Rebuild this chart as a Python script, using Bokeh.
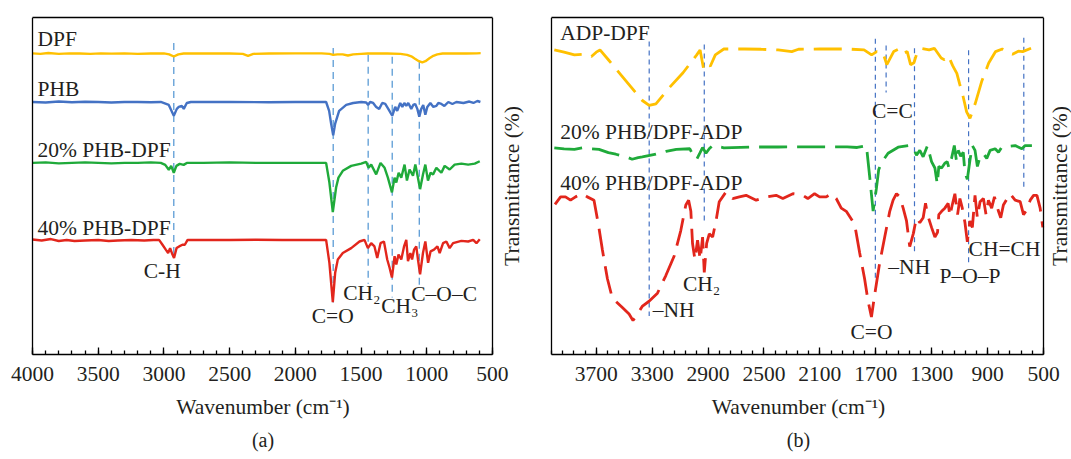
from bokeh.plotting import figure
from bokeh.layouts import row
from bokeh.models import Range1d, FixedTicker, Label, Title, LinearAxis, Span
from bokeh.embed import file_html
from bokeh.resources import INLINE

FONT = "Liberation Serif"
TXT = "#231F20"
FS = "21.5px"

# ---------------- Panel (a) data ----------------
a_major_ticks = [4000, 3500, 3000, 2500, 2000, 1500, 1000, 500]
a_minor_ticks = list(range(500, 4001, 100))

dpf_wn = [4000, 3940, 3880, 3800, 3720, 3640, 3560, 3480, 3400, 3300,
          3200, 3100, 3000, 2960, 2925, 2890, 2850, 2700, 2500, 2400,
          2360, 2320, 2200, 2000, 1800, 1740, 1712, 1680, 1640, 1600,
          1560, 1500, 1450, 1400, 1300, 1200, 1150, 1118, 1090, 1060,
          1034, 1010, 980, 950, 920, 880, 800, 700, 620, 590]
dpf_t = [306.5, 306, 306.8, 306, 306.5, 306.3, 306, 306.5, 306.2, 306.5,
         306, 306.3, 306.5, 305.5, 303.3, 305.5, 306.3, 306.5, 306.3, 306,
         304, 306, 306.3, 306.5, 306.5, 306, 305, 305.5, 305.5, 304.3,
         305.5, 306, 306.3, 306.5, 306.3, 306, 305, 303.5, 301, 298.5,
         297.3, 298.5, 301.5, 304, 305.5, 306.3, 306.5, 306.3, 306.5, 306.7]

phb_wn = [4000, 3900, 3800, 3700, 3600, 3500, 3400, 3300, 3200, 3100,
          3024, 2963, 2925, 2902, 2887, 2864, 2849, 2826, 2795,
          2500, 2200, 2000, 1800,
          1766, 1743, 1728, 1712, 1697, 1667, 1613, 1560, 1499,
          1461, 1446, 1431, 1408, 1385, 1362, 1339, 1316, 1293, 1263,
          1240, 1225, 1202, 1186, 1171, 1156, 1141, 1118, 1103, 1088,
          1072, 1057, 1042, 1027, 1011, 996, 973, 950, 927, 912,
          889, 866, 836, 805, 775, 721, 676, 645, 615, 592]
phb_t = [257, 256.5, 257.5, 256.8, 257.2, 257, 256.5, 257, 257, 256.8,
         257, 254, 243, 250, 252, 253, 250, 256, 257,
         257, 256.8, 257, 257,
         257, 248, 235, 223, 235, 248, 254, 256, 257,
         256.5, 254, 257, 256, 252, 250, 256, 255, 250, 243,
         252, 248, 256, 252, 256, 253, 256, 250, 254, 255,
         250, 242, 250, 254, 244, 252, 256, 252, 253, 256,
         255, 253, 257, 255, 257, 256, 257.5, 256, 258, 257]

p20_wn = [4000, 3900, 3800, 3700, 3600, 3500, 3400, 3300, 3200, 3100,
          3024, 2990, 2963, 2945, 2925, 2905, 2880, 2850, 2826,
          2700, 2500, 2300, 2100, 1900,
          1766, 1741, 1715, 1690, 1672, 1639, 1575, 1499, 1461, 1443, 1423,
          1385, 1352, 1321, 1296, 1265, 1245, 1232, 1214, 1194,
          1169, 1151, 1131, 1105, 1087, 1072, 1051, 1029, 1011, 991,
          971, 952, 927, 889, 864, 826, 788, 737, 685, 635, 597]
p20_t = [195, 195.5, 194.5, 195, 195.5, 195, 194.5, 195, 195, 195.5,
         195, 193, 188, 192, 185, 192, 194, 193, 195,
         195, 195.5, 195, 195, 195,
         195, 175, 145, 170, 180, 187, 192, 194.3, 196, 190, 193.3,
         183.3, 195, 190, 180, 165, 180, 175, 185, 180,
         193.3, 177, 188.3, 182, 193.3, 183.3, 168.3, 183.3, 193.3, 177,
         185, 183.3, 190, 185, 192, 188.3, 193.3, 194.3, 193.3, 194.3, 196.7]

p40_wn = [4000, 3930, 3860, 3800, 3740, 3680, 3600, 3500, 3420, 3350,
          3250, 3150, 3080, 3037, 3011, 2986, 2968, 2953, 2935, 2923,
          2904, 2884, 2859, 2841, 2820, 2700, 2500, 2300, 2100, 1900,
          1800, 1766, 1741, 1715, 1697, 1677, 1639, 1575, 1512, 1474,
          1448, 1423, 1398, 1377, 1352, 1326, 1301, 1283, 1265, 1245,
          1232, 1215, 1194, 1173, 1156, 1143, 1125, 1112, 1097, 1080,
          1067, 1051, 1029, 1011, 990, 971, 945, 919, 902, 876,
          851, 826, 800, 737, 685, 647, 622, 597]
p40_t = [117, 116, 117.5, 115.5, 116.5, 115.5, 116, 116.5, 115.5, 116,
         116.5, 116, 116.5, 116.7, 111.7, 106.7, 103.3, 108.3, 101.7, 98.3,
         108.3, 110, 111.7, 111.7, 116.7, 116.5, 116.5, 116.8, 116.5, 116.5,
         116.5, 116.7, 93.3, 53.3, 83.3, 96.7, 103.3, 108.3, 115, 116.7,
         108.3, 113.3, 110, 98.3, 113.3, 115, 96.7, 88.3, 78.3, 100,
         91.7, 101.7, 96.7, 110, 116.7, 95, 103.3, 96.7, 106.7, 110,
         96.7, 81.7, 103.3, 115, 93.3, 105, 106.7, 110, 103.3, 113.3,
         115, 108.3, 113.3, 115.7, 115, 116.7, 113.3, 117.3]

a_mark_wn = [2925, 1712, 1446, 1263, 1057]
a_mark_top = [317, 312, 305, 303, 298]
a_mark_bot = [98, 53, 72, 58, 70]

a_labels = ["DPF", "PHB", "20% PHB-DPF", "40% PHB-DPF", "C-H", "C=O", "CH₂", "CH₃", "C–O–C"]
a_label_wn = [3962, 3962, 3962, 3962, 3013, 1716, 1636, 1347, 1118]
a_label_t = [321, 270.5, 208.5, 129, 85, 39, 63, 49, 62]
a_label_align = ["left", "left", "left", "left", "center", "center", "left", "left", "left"]

# ---------------- Panel (b) data ----------------
b_major_ticks = [3700, 3300, 2900, 2500, 2100, 1700, 1300, 900, 500]
b_minor_ticks = list(range(500, 4021, 80))

adp_wn = [4000, 3930, 3856, 3783, 3734, 3700, 3673, 3613, 3516, 3419,
          3370, 3321, 3273, 3176, 3079, 2981, 2957, 2933, 2909, 2884,
          2848, 2787, 2641, 2520, 2399, 2301, 2253, 2100, 1905, 1784,
          1730, 1693, 1650, 1621, 1572, 1524, 1500, 1475, 1451, 1427,
          1402, 1378, 1318, 1281, 1232, 1208, 1180, 1150, 1120, 1100,
          1074, 1050, 1026, 989, 941, 892, 843, 795, 722, 680,
          649, 589]
adp_t = [316.3, 314, 311.2, 312, 309.5, 314, 316.3, 306.1, 289.2, 272.3,
         263.8, 258.7, 260.4, 277.3, 292.6, 311.2, 316.3, 297.7, 302.7, 299.4,
         311.2, 317.3, 317.3, 317, 316.3, 314.6, 317, 317.3, 317.3, 316.3,
         311.2, 314.6, 314, 301, 314.6, 318, 313, 314.6, 301, 303,
         314.6, 318, 316.3, 318, 308, 306, 310, 300, 292, 281,
         267.2, 252, 245.2, 260.4, 284.1, 302.7, 314.6, 317.3, 311.9, 315,
         314.6, 318]

b20_wn = [4000, 3930, 3856, 3800, 3734, 3680, 3613, 3560, 3516, 3480,
          3443, 3400, 3370, 3273, 3200, 3127, 3030, 3006, 2981, 2957,
          2939, 2915, 2890, 2867, 2787, 2600, 2400, 2200, 1905, 1833,
          1767, 1744, 1719, 1696, 1679, 1660, 1612, 1540, 1468, 1432,
          1409, 1385, 1361, 1330, 1301, 1277, 1260, 1249, 1229, 1206,
          1189, 1177, 1158, 1138, 1122, 1110, 1093, 1074, 1062, 1045,
          1026, 1009, 990, 973, 954, 930, 906, 882, 846, 822,
          799, 703, 655, 631, 583]
b20_t = [214.7, 213.5, 213, 214.5, 213.7, 213, 209.6, 208, 206.2, 205,
         202.8, 204.5, 205.2, 208, 211, 213, 213.7, 206.2, 202.8, 209.6,
         215, 209, 214, 217, 214.7, 215.5, 215.5, 215.7, 215.7, 215,
         217, 185.3, 149, 172, 192, 199, 209, 215.3, 217, 215,
         207, 212, 205.3, 217, 200.3, 193.7, 177, 195.3, 193.7, 198.7,
         200.3, 194, 203.7, 217, 200.3, 212, 206, 210, 188.7, 182,
         202, 217, 212, 195.3, 205.3, 208.7, 203.7, 212, 213.7, 210,
         215.3, 217, 213.7, 217, 217]

b40_wn = [3995, 3955, 3920, 3884, 3848, 3800, 3764, 3716, 3681, 3656,
          3620, 3585, 3513, 3465, 3437, 3405, 3369, 3322, 3262, 3202,
          3143, 3095, 3059, 3039, 3023, 3011, 2994, 2975, 2956, 2939,
          2927, 2910, 2891, 2867, 2843, 2820, 2772, 2724, 2676, 2628,
          2556, 2485, 2413, 2365, 2293, 2221, 2186, 2138, 2102, 2054,
          2018, 1983, 1947, 1911, 1851, 1815, 1780, 1755, 1731, 1708,
          1672, 1636, 1600, 1576, 1552, 1528, 1504, 1480, 1457, 1432,
          1409, 1385, 1361, 1344, 1330, 1301, 1277, 1258, 1249, 1229,
          1206, 1182, 1170, 1153, 1134, 1115, 1098, 1081, 1062, 1045,
          1026, 1009, 990, 973, 954, 930, 911, 894, 871, 851,
          822, 806, 787, 739, 703, 667, 643, 619, 595, 571,
          547, 524, 505]
b40_t = [156, 163.7, 163.7, 160.3, 163.7, 167, 163.7, 160.3, 132, 108.7,
         78.7, 58.7, 48.7, 42, 35.3, 42, 50.3, 55.3, 63.7, 82,
         102, 128.7, 155.3, 160.3, 148.7, 115.3, 98.7, 118.7, 98.7, 122,
         85.3, 115.3, 125.3, 122, 138.7, 158.7, 168.7, 162, 163.7, 165.3,
         160.3, 163.7, 165.3, 162, 167, 165.3, 162, 167, 163.7, 163.7,
         167, 162, 152, 148.7, 135.3, 105.3, 78.7, 55.3, 39, 62,
         95.3, 122, 148.7, 160.3, 167, 163.7, 152, 138.7, 112, 125.3,
         142, 137, 142, 157, 145.3, 132, 122, 127, 145.3, 148.7,
         152, 157, 143.7, 155.3, 167, 145.3, 162, 152, 137, 117,
         138.7, 132, 165.3, 142, 158.7, 162, 145.3, 160.3, 152, 163.7,
         148.7, 142, 155.3, 167, 160.3, 158.7, 145.3, 150.3, 160.3, 165.3,
         165.3, 152, 132]

b_mark_wn = [3321, 2927, 1703, 1626, 1423, 1036, 641]
b_mark_top = [325, 322, 328, 321, 318, 316, 329]
b_mark_bot = [40, 135, 79, 272, 107, 95, 172]

b_labels = ["ADP-DPF", "20% PHB/DPF-ADP", "40% PHB/DPF-ADP", "C=C", "CH₂", "–NH",
            "C=O", "–NH", "P–O–P", "CH=CH"]
b_label_wn = [3958, 3958, 3958, 1581, 3080, 3295, 1731, 1610, 1244, 1036]
b_label_t = [334, 231, 178, 253, 73, 46, 23, 91, 82, 110]
b_label_align = ["left", "left", "left", "center", "left", "left", "center", "left", "left", "left"]

Y_TITLE = "Transmittance (%)"


def setup_panel(p, lo, hi, major, minor, panel_tag, ytitle_x, ytitle_y):
    """Box limited to [lo, hi] wavenumbers; frame area is wider so outside labels fit."""
    p.grid.visible = False
    ax = p.xaxis[0]
    ax.bounds = (lo, hi)
    ax.ticker = FixedTicker(ticks=major, minor_ticks=minor)
    ax.major_tick_in = 7
    ax.major_tick_out = 0
    ax.minor_tick_in = 4
    ax.minor_tick_out = 0
    ax.axis_line_color = "black"
    ax.axis_line_width = 1.3
    ax.major_tick_line_color = "black"
    ax.minor_tick_line_color = "black"
    ax.major_tick_line_width = 1.3
    ax.minor_tick_line_width = 1.3
    ax.major_label_text_font = FONT
    ax.major_label_text_font_size = FS
    ax.major_label_text_color = TXT
    ax.major_label_standoff = 12
    ax.axis_label = "Wavenumber (cm⁻¹)"
    ax.axis_label_text_font = FONT
    ax.axis_label_text_font_size = FS
    ax.axis_label_text_font_style = "normal"
    ax.axis_label_text_color = TXT
    ax.axis_label_standoff = 11
    top = LinearAxis(ticker=FixedTicker(ticks=[]), bounds=(lo, hi),
                     axis_line_color="black", axis_line_width=1.3,
                     major_tick_line_color=None, minor_tick_line_color=None,
                     major_label_text_font_size="0px")
    p.add_layout(top, "above")
    for loc in (lo, hi):
        p.add_layout(Span(location=loc, dimension="height", line_color="black",
                          line_width=1.3))
    p.add_layout(Title(text=panel_tag, align="center", vertical_align="top",
                       text_font=FONT, text_font_size="20px", text_font_style="normal",
                       text_color=TXT, standoff=14), "below")
    p.add_layout(Label(x=ytitle_x, y=ytitle_y, text=Y_TITLE, angle=90, angle_units="deg",
                       text_align="center", text_baseline="middle", text_font=FONT,
                       text_font_size=FS, text_color=TXT))


def add_labels(p, texts, xs, ys, aligns):
    for t, x, y, al in zip(texts, xs, ys, aligns):
        p.add_layout(Label(x=x, y=y, text=t, text_align=al, text_baseline="middle",
                           text_font=FONT, text_font_size=FS, text_color=TXT))


# ---------------- Figure (a) ----------------
p1 = figure(width=525, height=459, x_range=Range1d(4243.5, 248.9), y_range=Range1d(0, 343),
            output_backend="svg", toolbar_location=None, y_axis_location=None, title=None,
            min_border_left=0, min_border_right=0, min_border_top=17, min_border_bottom=99,
            background_fill_color="white", border_fill_color="white",
            outline_line_color=None)
setup_panel(p1, 500, 4000, a_major_ticks, a_minor_ticks, "(a)", 355.4, 171.5)
p1.segment(x0=a_mark_wn, y0=a_mark_top, x1=a_mark_wn, y1=a_mark_bot,
           line_color="#5B9BD5", line_width=1.3, line_dash="7 5")
p1.line(dpf_wn, dpf_t, line_color="#FFC000", line_width=2.4)
p1.line(phb_wn, phb_t, line_color="#4472C4", line_width=2.4)
p1.line(p20_wn, p20_t, line_color="#1FAA3A", line_width=2.4)
p1.line(p40_wn, p40_t, line_color="#E2261C", line_width=2.4)
add_labels(p1, a_labels, a_label_wn, a_label_t, a_label_align)

# ---------------- Figure (b) ----------------
p2 = figure(width=546, height=459, x_range=Range1d(4206.0, 299.7), y_range=Range1d(0, 350),
            output_backend="svg", toolbar_location=None, y_axis_location=None, title=None,
            min_border_left=0, min_border_right=0, min_border_top=12, min_border_bottom=97,
            background_fill_color="white", border_fill_color="white",
            outline_line_color=None)
setup_panel(p2, 500, 4020, b_major_ticks, b_minor_ticks, "(b)", 378.4, 175)
p2.segment(x0=b_mark_wn, y0=b_mark_top, x1=b_mark_wn, y1=b_mark_bot,
           line_color="#4472C4", line_width=1.2, line_dash="5 4")
p2.line(adp_wn, adp_t, line_color="#FFC000", line_width=2.8, line_dash="28 10")
p2.line(b20_wn, b20_t, line_color="#1FAA3A", line_width=2.8, line_dash="28 10")
p2.line(b40_wn, b40_t, line_color="#E2261C", line_width=2.8, line_dash="28 10")
add_labels(p2, b_labels, b_label_wn, b_label_t, b_label_align)

layout = row(p1, p2, spacing=0)
open("out.html", "w").write(file_html(layout, INLINE))
